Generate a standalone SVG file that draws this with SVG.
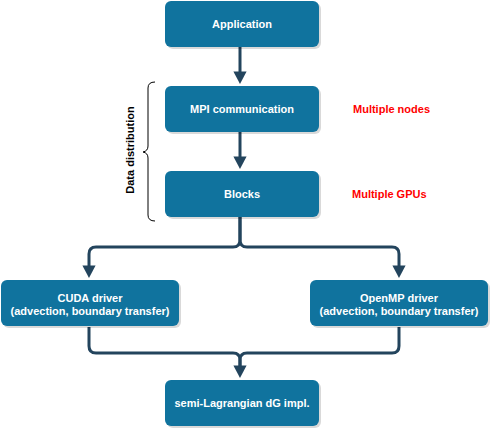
<svg xmlns="http://www.w3.org/2000/svg" width="491" height="430" viewBox="0 0 491 430">
<style>
.box{fill:#10739E;}
.sh{fill:#000;opacity:0.15;}
.t{font-family:"Liberation Sans",Arial,sans-serif;font-weight:bold;font-size:11px;fill:#fff;text-anchor:middle;}
.r{font-family:"Liberation Sans",Arial,sans-serif;font-weight:bold;font-size:11px;fill:#f00;}
.k{font-family:"Liberation Sans",Arial,sans-serif;font-weight:bold;font-size:11px;fill:#000;text-anchor:middle;}
.c{fill:none;stroke:#23445D;stroke-width:3;stroke-linejoin:round;}
</style>
<defs>
<marker id="ah" markerWidth="4.2" markerHeight="4.4" refX="2.2" refY="2.2" orient="auto" markerUnits="strokeWidth">
<path d="M0,0 L4.2,2.2 L0,4.4 Z" fill="#23445D"/>
</marker>
</defs>
<rect width="491" height="430" fill="#fff"/>
<g id="connectors">
<path class="c" d="M240,47 V78" marker-end="url(#ah)"/>
<path class="c" d="M240,132 V163" marker-end="url(#ah)"/>
<path class="c" d="M240,217 V240 Q240,247 233,247 H96 Q89,247 89,254 V272" marker-end="url(#ah)"/>
<path class="c" d="M240,217 V240 Q240,247 247,247 H392 Q399,247 399,254 V272" marker-end="url(#ah)"/>
<path class="c" d="M89,327 V346 Q89,353 96,353 H233 Q240,353 240,360 V372" marker-end="url(#ah)"/>
<path class="c" d="M399,327 V346 Q399,353 392,353 H247 Q240,353 240,360 V372"/>
</g>
<g id="n-application">
<rect class="sh" x="167" y="3" width="154" height="46" rx="6"/>
<rect class="box" x="165" y="1" width="154" height="46" rx="6"/>
<text class="t" x="242" y="28">Application</text>
</g>
<g id="n-mpi">
<rect class="sh" x="167" y="88" width="154" height="46" rx="6"/>
<rect class="box" x="165" y="86" width="154" height="46" rx="6"/>
<text class="t" x="242" y="113">MPI communication</text>
</g>
<g id="n-blocks">
<rect class="sh" x="167" y="173" width="154" height="46" rx="6"/>
<rect class="box" x="165" y="171" width="154" height="46" rx="6"/>
<text class="t" x="242" y="198">Blocks</text>
</g>
<g id="n-cuda">
<rect class="sh" x="3" y="282" width="178" height="46" rx="6"/>
<rect class="box" x="1" y="280" width="178" height="46" rx="6"/>
<text class="t" x="90" y="302">CUDA driver</text>
<text class="t" x="90" y="315">(advection, boundary transfer)</text>
</g>
<g id="n-openmp">
<rect class="sh" x="312" y="282" width="178" height="46" rx="6"/>
<rect class="box" x="310" y="280" width="178" height="46" rx="6"/>
<text class="t" x="399" y="302">OpenMP driver</text>
<text class="t" x="399" y="315">(advection, boundary transfer)</text>
</g>
<g id="n-semi">
<rect class="sh" x="167" y="382" width="154" height="46" rx="6"/>
<rect class="box" x="165" y="380" width="154" height="46" rx="6"/>
<text class="t" x="242" y="407">semi-Lagrangian dG impl.</text>
</g>
<g id="labels">
<text class="r" x="353" y="113">Multiple nodes</text>
<text class="r" x="352" y="198">Multiple GPUs</text>
<path d="M155,82 Q148,82 148,88 V146 Q148,151 143,152 Q148,153 148,158 V215 Q148,221 155,221" fill="none" stroke="#000" stroke-width="1"/>
<text class="k" transform="translate(134,150) rotate(-90)">Data distribution</text>
</g>
</svg>
